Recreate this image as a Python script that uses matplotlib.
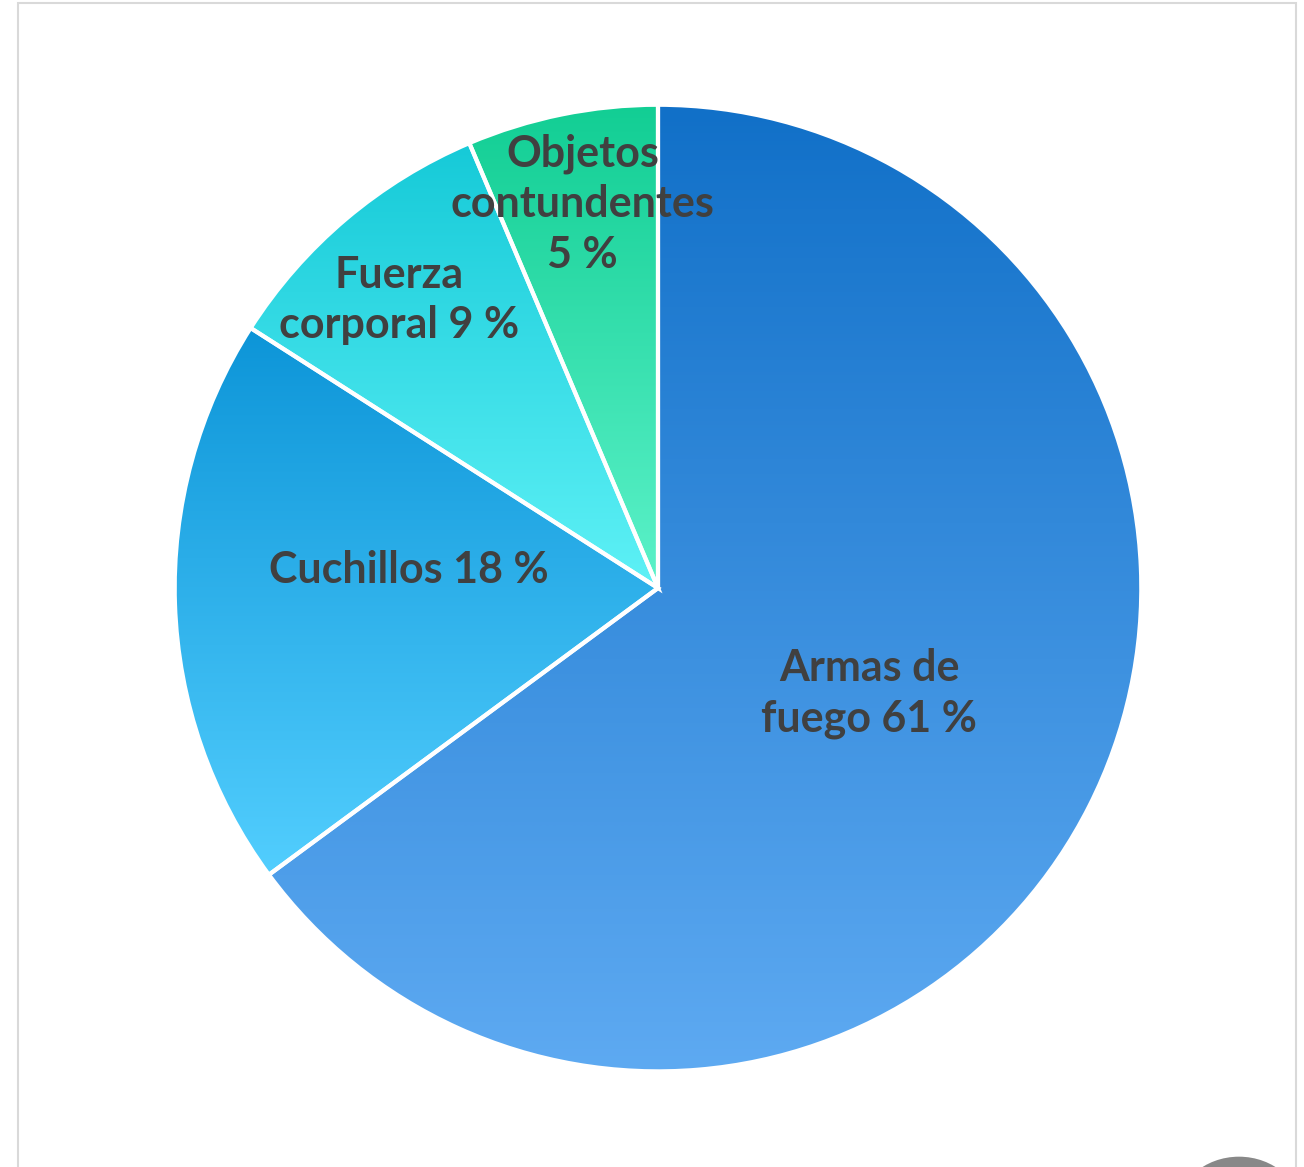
#! /usr/bin/python3
""" plot.py draws a pie chart of homicides by weapon type with vertical gradient wedges.

The figure is saved as out.png.
"""
import numpy as np
import matplotlib
matplotlib.use('Agg')
import matplotlib.pyplot as plt
from matplotlib.colors import LinearSegmentedColormap
from matplotlib.patches import Rectangle, Circle

# Data
categories = ['Armas de fuego', 'Cuchillos', 'Fuerza corporal', 'Objetos contundentes']
sliceSizes = [61, 18, 9, 6]
pctLabels = [61, 18, 9, 5]
labelTexts = ['Armas de\nfuego 61 %', 'Cuchillos 18 %', 'Fuerza\ncorporal 9 %', 'Objetos\ncontundentes\n5 %']

# Gradient colours (top, bottom) per wedge
topColors = ['#1170C8', '#0D95D8', '#16CAD8', '#12CE94']
bottomColors = ['#5EAAF2', '#52CEFE', '#5EF1F6', '#5CF2C9']

# Label positions in units of the radius
labelPos = [(0.44, -0.22), (-0.52, 0.037), (-0.54, 0.60), (-0.157, 0.80)]

plt.rcParams['font.family'] = ['Lato', 'DejaVu Sans']

R = 1.007

fig = plt.figure(figsize=(13.04, 11.67), dpi=100)
ax = fig.add_axes([0, 0, 1, 1])

# Light grey frame around the chart area
frame = Rectangle((18 / 1304, -0.05), (1296 - 18) / 1304, 1.05 - 3 / 1167,
                  transform=fig.transFigure, fill=False, edgecolor='#D9D9D9',
                  linewidth=1.5, zorder=0)
fig.patches.append(frame)

wedges, _ = ax.pie(sliceSizes, startangle=90, counterclock=False, radius=R,
                   center=(0, 0), wedgeprops=dict(edgecolor='none', facecolor='none'))

# Fill every wedge with a vertical gradient clipped to its shape
for i, w in enumerate(wedges):
    path = w.get_path().transformed(w.get_patch_transform())
    verts = path.vertices
    x0, x1 = verts[:, 0].min(), verts[:, 0].max()
    y0, y1 = verts[:, 1].min(), verts[:, 1].max()
    cmap = LinearSegmentedColormap.from_list('g%d' % i, [bottomColors[i], topColors[i]])
    grad = np.linspace(0, 1, 256).reshape(-1, 1)
    im = ax.imshow(grad, cmap=cmap, extent=[x0, x1, y0, y1], origin='lower',
                   aspect='auto', zorder=1, interpolation='bilinear')
    im.set_clip_path(w)
    w.set_zorder(2)

# White separators
ax.pie(sliceSizes, startangle=90, counterclock=False, radius=R,
       wedgeprops=dict(edgecolor='white', facecolor='none', linewidth=3, zorder=3))

ax.set_xlim(-1.371, 1.346)
ax.set_ylim(-1.206, 1.225)
ax.set_aspect('equal')
ax.axis('off')

for (lx, ly), txt in zip(labelPos, labelTexts):
    ax.text(lx, ly, txt, ha='center', va='center', fontsize=31, fontweight='bold',
            color='#404040', linespacing=1.32, zorder=5)

# Grey circle at the bottom right corner
fig.patches.append(Circle((1239 / 1304, -46.5 / 1167), 63.5 / 1304, transform=fig.transFigure,
                          facecolor='#888888', edgecolor='none'))

fig.savefig('out.png', dpi=100)
